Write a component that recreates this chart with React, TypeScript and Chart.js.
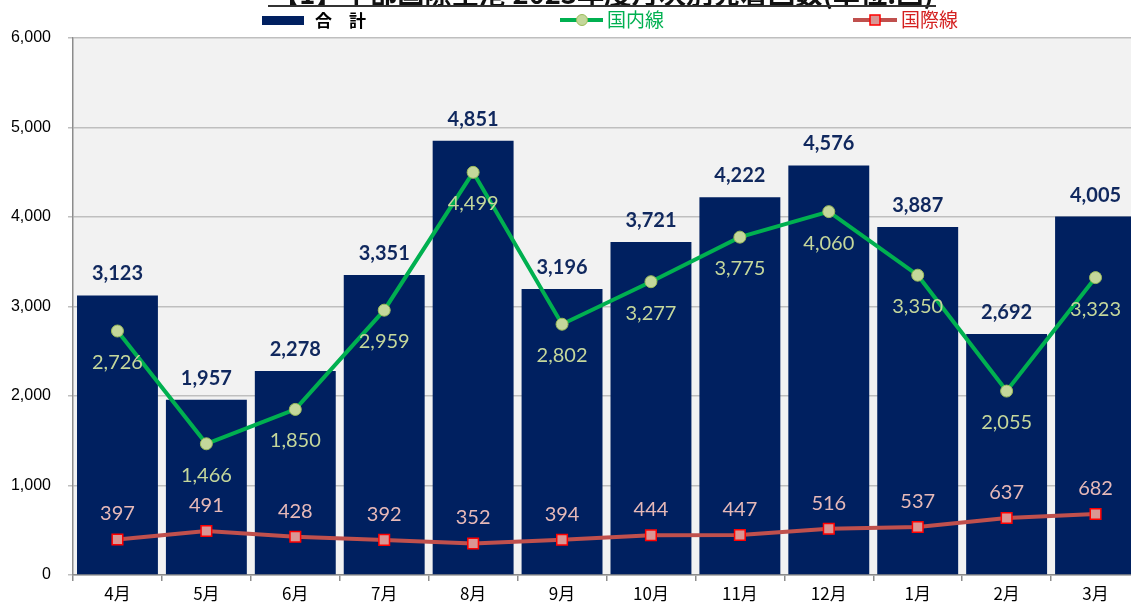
import React, { useEffect, useRef } from 'react';
import { Chart, registerables } from 'chart.js';

Chart.register(...registerables);

const titleText = '【1】中部国際空港 2023年度月次別発着回数(単位:回)';
const categories = ['4月', '5月', '6月', '7月', '8月', '9月', '10月', '11月', '12月', '1月', '2月', '3月'];
const totalValues = [3123, 1957, 2278, 3351, 4851, 3196, 3721, 4222, 4576, 3887, 2692, 4005];
const domesticValues = [2726, 1466, 1850, 2959, 4499, 2802, 3277, 3775, 4060, 3350, 2055, 3323];
const internationalValues = [397, 491, 428, 392, 352, 394, 444, 447, 516, 537, 637, 682];
const yTickValues = [0, 1000, 2000, 3000, 4000, 5000, 6000];
const legendLabels = ['合　計', '国内線', '国際線'];

const NAVY = '#002060';
const GREEN = '#00b050';
const RED_LINE = '#c0504d';

const fmt = (v: number) => v.toLocaleString('en-US');

const decorPlugin = {
  id: 'decor',
  beforeDraw(chart: any) {
    const { ctx, chartArea } = chart;
    ctx.save();
    ctx.fillStyle = '#f2f2f2';
    ctx.fillRect(chartArea.left, chartArea.top, chartArea.right - chartArea.left, chartArea.bottom - chartArea.top);
    ctx.restore();
  },
  afterDatasetsDraw(chart: any) {
    const { ctx } = chart;
    ctx.save();
    ctx.textAlign = 'center';
    ctx.textBaseline = 'alphabetic';
    // totals
    ctx.font = 'bold 20px Lato';
    ctx.fillStyle = '#10285e';
    chart.getDatasetMeta(0).data.forEach((el: any, i: number) => {
      ctx.fillText(fmt(totalValues[i]), el.x, el.y - 15);
    });
    // domestic
    ctx.font = '20px Lato';
    ctx.fillStyle = '#c4d79b';
    chart.getDatasetMeta(1).data.forEach((el: any, i: number) => {
      ctx.fillText(fmt(domesticValues[i]), el.x, el.y + 38);
    });
    // international
    ctx.fillStyle = '#e6b9b8';
    chart.getDatasetMeta(2).data.forEach((el: any, i: number) => {
      ctx.fillText(fmt(internationalValues[i]), el.x, el.y - 19);
    });
    ctx.restore();
  },
  afterDraw(chart: any) {
    const { ctx } = chart;
    ctx.save();
    // title (cut off at top)
    const targetW = 662;
    let size = 24;
    ctx.font = `bold ${size}px "Noto Sans CJK JP"`;
    const w = ctx.measureText(titleText).width;
    size = size * targetW / w;
    ctx.font = `bold ${size}px "Noto Sans CJK JP"`;
    ctx.fillStyle = '#111';
    ctx.textAlign = 'left';
    ctx.textBaseline = 'alphabetic';
    ctx.fillText(titleText, 272, 3.5);
    ctx.fillStyle = '#333';
    ctx.fillRect(268, 5, 668, 2);

    // legend
    ctx.fillStyle = NAVY;
    ctx.fillRect(262, 16, 42, 9);
    ctx.fillStyle = '#000';
    ctx.font = 'bold 17px "Noto Sans CJK JP"';
    ctx.textBaseline = 'middle';
    ctx.fillText(legendLabels[0], 315, 21);

    ctx.strokeStyle = GREEN;
    ctx.lineWidth = 4;
    ctx.beginPath();
    ctx.moveTo(560, 20);
    ctx.lineTo(603, 20);
    ctx.stroke();
    ctx.beginPath();
    ctx.arc(582, 20, 5.5, 0, Math.PI * 2);
    ctx.fillStyle = '#c4d79b';
    ctx.fill();
    ctx.lineWidth = 1;
    ctx.strokeStyle = '#9bbb59';
    ctx.stroke();
    ctx.fillStyle = '#00b050';
    ctx.font = '19px "Noto Sans CJK JP"';
    ctx.fillText(legendLabels[1], 607, 20);

    ctx.strokeStyle = RED_LINE;
    ctx.lineWidth = 4;
    ctx.beginPath();
    ctx.moveTo(853, 20);
    ctx.lineTo(897, 20);
    ctx.stroke();
    ctx.fillStyle = '#da9694';
    ctx.fillRect(870, 15, 10, 10);
    ctx.strokeStyle = '#ff0000';
    ctx.lineWidth = 1.5;
    ctx.strokeRect(870, 15, 10, 10);
    ctx.fillStyle = '#d42020';
    ctx.fillText(legendLabels[2], 901, 20);
    ctx.restore();
  },
};

export default function App() {
  const ref = useRef<HTMLCanvasElement | null>(null);
  useEffect(() => {
    document.body.style.margin = '0';
    document.body.style.overflow = 'hidden';
    const canvas = ref.current!;
    const chart = new Chart(canvas, {
      type: 'bar',
      data: {
        labels: categories,
        datasets: [
          {
            type: 'bar',
            label: legendLabels[0],
            data: totalValues,
            backgroundColor: NAVY,
            categoryPercentage: 1,
            barPercentage: 0.91,
            order: 10,
          },
          {
            type: 'line',
            label: legendLabels[1],
            data: domesticValues,
            borderColor: GREEN,
            borderWidth: 4,
            pointStyle: 'circle',
            pointRadius: 6,
            pointBackgroundColor: '#c4d79b',
            pointBorderColor: '#9bbb59',
            pointBorderWidth: 1,
            tension: 0,
            order: 2,
          },
          {
            type: 'line',
            label: legendLabels[2],
            data: internationalValues,
            borderColor: RED_LINE,
            borderWidth: 4,
            pointStyle: 'rect',
            pointRadius: 7.5,
            pointBackgroundColor: '#da9694',
            pointBorderColor: '#ff0000',
            pointBorderWidth: 1.5,
            tension: 0,
            order: 1,
          },
        ] as any,
      },
      options: {
        responsive: false,
        animation: false,
        layout: { padding: { top: 38, right: 1, left: 0, bottom: 0 } },
        plugins: { legend: { display: false }, tooltip: { enabled: false }, title: { display: false } },
        scales: {
          x: {
            offset: true,
            grid: { offset: true, drawOnChartArea: false, drawTicks: true, tickLength: 6, color: '#8c8c8c', lineWidth: 1.5 },
            border: { color: '#8c8c8c', width: 1.5 },
            ticks: { color: '#000', font: { family: '"Noto Sans CJK JP"', size: 17 }, padding: 2, maxRotation: 0 },
            afterFit: (s: any) => { s.height = 29; },
          },
          y: {
            min: 0,
            max: 6000,
            afterBuildTicks: (s: any) => { s.ticks = yTickValues.map((v) => ({ value: v })); },
            ticks: { color: '#000', font: { family: '"Liberation Sans"', size: 16 }, padding: 17, callback: (v: any) => fmt(Number(v)) },
            grid: { color: '#bfbfbf', lineWidth: 1.5, tickLength: 5 },
            border: { color: '#8c8c8c', width: 1.5 },
            afterFit: (s: any) => { s.width = 73; },
          },
        },
      },
      plugins: [decorPlugin],
    });
    return () => chart.destroy();
  }, []);
  return (
    <div style={{ position: 'absolute', left: 0, top: 0, width: 1131, height: 604, overflow: 'hidden', background: '#fff' }}>
      <canvas ref={ref} width={1149} height={604} style={{ display: 'block', width: 1149, height: 604 }} />
    </div>
  );
}
